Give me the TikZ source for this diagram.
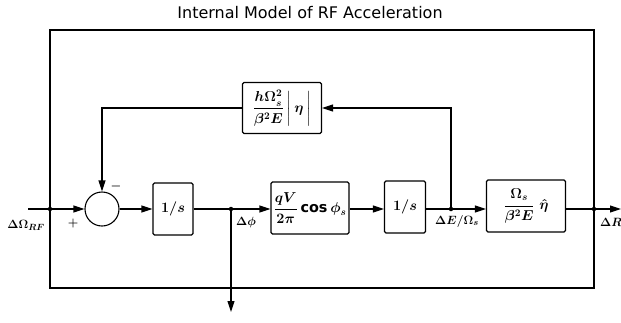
\documentclass[tikz,border=0pt]{standalone}
\usepackage{fontspec}
\setmainfont{DejaVu Sans}
\usepackage{amsmath}
\usetikzlibrary{arrows.meta, positioning, calc}
\tikzset{
    block/.style={rectangle, rounded corners=1.5pt, draw=black, line width=1.1pt, minimum height=52pt, text centered, inner sep=2pt, font=\Large\boldmath},
    summer/.style={circle, draw=black, line width=1.1pt, minimum size=34pt, inner sep=0pt},
    junction/.style={circle, fill=black, minimum size=4.5pt, inner sep=0pt},
    wire/.style={line width=1.1pt},
    arrow/.style={line width=1.1pt, -{Triangle[length=11pt,width=7pt]}},
    siglabel/.style={font=\fontsize{13}{15}\selectfont\boldmath}
}

\begin{document}
\begin{tikzpicture}[x=1pt, y=-1pt]

                \useasboundingbox (0,0) rectangle (621,322);

                % Title
                \node (title) [font=\fontsize{16}{18}\selectfont] at (310,13) {Internal Model of RF Acceleration};

                % Junctions and free ends
                \coordinate (in_pt) at (28,209);
                \node (junc_in) [junction] at (50,209) {};
                \node (junc_phi) [junction] at (231,209) {};
                \node (junc_e) [junction] at (451,209) {};
                \node (junc_r) [junction] at (594,209) {};
                \coordinate (out_pt) at (621,209);
                \coordinate (phi_out) at (231,312);
                \coordinate (loop_tl) at (50,30);
                \coordinate (loop_bl) at (50,288);

                % Forward path
                \node (sum_err) [summer] at (102,209) {};
                \node (blk_integ1) [block, minimum width=40pt] at (173,209) {$1/s$};
                \node (blk_gain) [block, minimum width=78pt, inner sep=1pt] at (310,208) {$\dfrac{qV}{2\pi}\cos\phi_s$};
                \node (blk_integ2) [block, minimum width=41pt] at (405,207) {$1/s$};
                \node (blk_radial) [block, minimum width=79pt] at (526,206) {$\dfrac{\Omega_s}{\beta^2 E}\;\hat{\eta}$};

                % Feedback path
                \node (blk_feedback) [block, minimum width=79pt, minimum height=51pt] at (282,108) {$\dfrac{h\Omega_s^2}{\beta^2 E}\left|\vphantom{\dfrac{A}{B}}\,\eta\,\right|$};

                % Signal labels
                \node [siglabel] at (26,225) {$\Delta\Omega_{RF}$};
                \node [siglabel] at (73,223) {$+$};
                \node [siglabel] at (116,186) {$-$};
                \node [siglabel] at (246,222) {$\Delta\phi$};
                \node [siglabel] at (457,221) {$\Delta E/\Omega_s$};
                \node [siglabel] at (611,222) {$\Delta R$};

                % Forward arrows
                \draw [wire] (in_pt) -- (junc_in);
                \draw [arrow] (junc_in) -- (sum_err);
                \draw [arrow] (sum_err) -- (blk_integ1);
                \draw [wire] (blk_integ1) -- (junc_phi);
                \draw [arrow] (junc_phi) -- (blk_gain.west |- junc_phi);
                \draw [arrow] (blk_gain.east |- junc_phi) -- (blk_integ2.west |- junc_phi);
                \draw [wire] (blk_integ2.east |- junc_e) -- (junc_e);
                \draw [arrow] (junc_e) -- (blk_radial.west |- junc_e);
                \draw [wire] (blk_radial.east |- junc_r) -- (junc_r);
                \draw [arrow] (junc_r) -- (out_pt);
                \draw [arrow] (junc_phi) -- (phi_out);

                % Feedback arrows
                \draw [arrow] (junc_e) |- (blk_feedback.east);
                \draw [arrow] (blk_feedback.west) -| (sum_err.north);

                % Outer loop
                \draw [wire] (junc_in) -- (loop_tl) -| (junc_r);
                \draw [wire] (junc_in) -- (loop_bl) -| (junc_r);

            \end{tikzpicture}
\end{document}
